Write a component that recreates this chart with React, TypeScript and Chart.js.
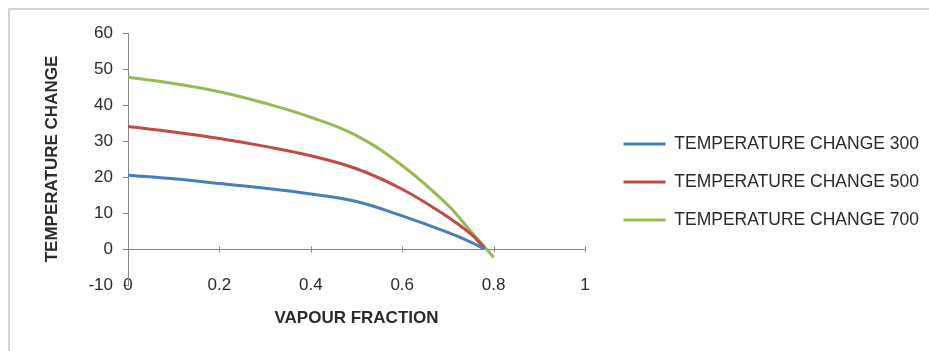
import React, { useEffect, useRef } from "react";
import { Chart, registerables } from "chart.js";

Chart.register(...registerables);

// ---- data ----
const seriesNames = ["TEMPERATURE CHANGE 300", "TEMPERATURE CHANGE 500", "TEMPERATURE CHANGE 700"];
const x300 = [0, 0.1, 0.2, 0.3, 0.4, 0.5, 0.6, 0.7, 0.75, 0.78];
const t300 = [20.5, 19.5, 18.2, 16.9, 15.3, 13.2, 9.2, 4.6, 1.9, 0.0];
const x500 = [0, 0.1, 0.2, 0.3, 0.4, 0.5, 0.6, 0.7, 0.75, 0.78];
const t500 = [34.0, 32.5, 30.7, 28.5, 25.9, 22.3, 16.6, 8.9, 4.2, 0.3];
const x700 = [0, 0.1, 0.2, 0.3, 0.4, 0.5, 0.6, 0.7, 0.75, 0.8];
const t700 = [47.7, 46.0, 43.7, 40.5, 36.6, 31.5, 23.2, 12.2, 4.9, -2.3];
const xTickLabels = ["0", "0.2", "0.4", "0.6", "0.8", "1"];
const yTickLabels = ["-10", "0", "10", "20", "30", "40", "50", "60"];
const xTitle = "VAPOUR FRACTION";
const yTitle = "TEMPERATURE CHANGE";

const colors = ["#4A7EBB", "#BE4B48", "#98B954"];
const FONT = "'Liberation Sans', Arial, sans-serif";
const TEXT = "#2b2b2b";
const AXIS = "#868686";
const PLOT_RIGHT = 577;
const PAD_RIGHT = 0;

const xTickMarks = {
  id: "xTickMarks",
  afterDatasetsDraw(chart: any) {
    const xs = chart.scales.x;
    const ys = chart.scales.y;
    const y0 = Math.round(ys.getPixelForValue(0)) + 0.5;
    const ctx = chart.ctx;
    ctx.save();
    ctx.strokeStyle = AXIS;
    ctx.lineWidth = 1;
    xs.ticks.forEach((t: any) => {
      const px = Math.round(xs.getPixelForValue(t.value)) + 0.5;
      ctx.beginPath();
      ctx.moveTo(px, y0 - 3);
      ctx.lineTo(px, y0 + 3);
      ctx.stroke();
    });
    ctx.restore();
  },
};

export default function App() {
  const ref = useRef<HTMLCanvasElement | null>(null);
  useEffect(() => {
    if (!ref.current) return;
    const mk = (xs: number[], ys: number[]) => xs.map((x, i) => ({ x, y: ys[i] }));
    const chart = new Chart(ref.current, {
      type: "line",
      data: {
        datasets: [
          { label: seriesNames[0], data: mk(x300, t300) },
          { label: seriesNames[1], data: mk(x500, t500) },
          { label: seriesNames[2], data: mk(x700, t700) },
        ].map((d, i) => ({
          ...d,
          borderColor: colors[i],
          backgroundColor: colors[i],
          borderWidth: 3,
          pointRadius: 0,
          tension: 0.4,
          fill: false,
        })),
      },
      options: {
        animation: false,
        responsive: false,
        layout: { padding: { top: 25, bottom: 20, left: 0, right: PAD_RIGHT } },
        scales: {
          x: {
            type: "linear",
            min: 0,
            max: 1,
            ticks: {
              stepSize: 0.2,
              mirror: true,
              padding: -11,
              color: TEXT,
              font: { family: FONT, size: 17 },
              callback: (_v: any, i: number) => xTickLabels[i],
              maxRotation: 0,
            },
            grid: { display: false, drawTicks: false },
            border: { display: false },
            title: {
              display: true,
              text: xTitle,
              color: TEXT,
              font: { family: FONT, size: 17, weight: "bold" },
              padding: { top: 0, bottom: 2 },
            },
            afterFit: (s: any) => {
              s.height = 46;
            },
          },
          y: {
            type: "linear",
            min: -10,
            max: 60,
            ticks: {
              stepSize: 10,
              padding: 10,
              color: TEXT,
              font: { family: FONT, size: 17 },
              callback: (_v: any, i: number) => yTickLabels[i],
            },
            grid: {
              color: (c: any) => (c.tick && c.tick.value === 0 ? AXIS : "rgba(0,0,0,0)"),
              tickColor: AXIS,
              tickLength: 5,
              drawTicks: true,
            },
            border: { display: true, color: AXIS, width: 1 },
            title: {
              display: true,
              text: yTitle,
              color: TEXT,
              font: { family: FONT, size: 17, weight: "bold" },
              padding: { top: 34, bottom: 0 },
            },
            afterFit: (s: any) => {
              s.width = 120;
            },
          },
          spacer: {
            type: "linear",
            position: "right",
            display: true,
            ticks: { display: false },
            grid: { display: false, drawTicks: false },
            border: { display: false },
            afterFit: (s: any) => {
              const lw = s.chart.legend ? s.chart.legend.width : 0;
              s.width = Math.max(0, s.chart.width - PAD_RIGHT - lw - PLOT_RIGHT);
            },
          },
        },
        plugins: {
          legend: {
            position: "right",
            align: "center",
            maxWidth: 340,
            labels: {
              usePointStyle: true,
              pointStyle: "line",
              pointStyleWidth: 42,
              padding: 20.5,
              color: TEXT,
              font: { family: FONT, size: 17.5 },
            },
          },
          tooltip: { enabled: false },
        },
      },
      plugins: [xTickMarks],
    } as any);
    return () => chart.destroy();
  }, []);

  return (
    <div style={{ position: "absolute", left: 8, top: 8, width: 921, height: 343, background: "#ffffff" }}>
      <div
        style={{
          position: "absolute",
          left: 0,
          top: 0,
          width: 921,
          height: 343,
          boxSizing: "border-box",
          borderTop: "2px solid #d4d4d4",
          borderLeft: "2px solid #d4d4d4",
        }}
      />
      <canvas ref={ref} width={921} height={343} style={{ position: "absolute", left: 0, top: 0 }} />
    </div>
  );
}
